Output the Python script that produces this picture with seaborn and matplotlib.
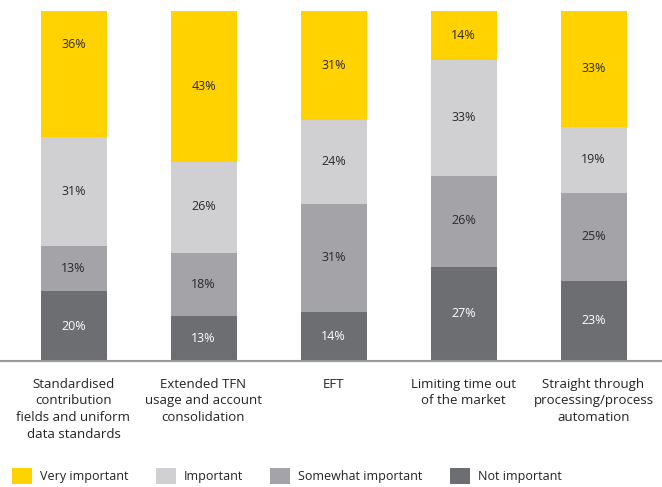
import matplotlib
matplotlib.use("Agg")
import matplotlib.pyplot as plt
import seaborn as sns
import pandas as pd
from matplotlib.patches import Patch

categories = [
    "Standardised\ncontribution\nfields and uniform\ndata standards",
    "Extended TFN\nusage and account\nconsolidation",
    "EFT",
    "Limiting time out\nof the market",
    "Straight through\nprocessing/process\nautomation",
]
series_names = ["Not important", "Somewhat important", "Important", "Very important"]
legend_order = ["Very important", "Important", "Somewhat important", "Not important"]
not_important = [20, 13, 14, 27, 23]
somewhat_important = [13, 18, 31, 26, 25]
important = [31, 26, 24, 33, 19]
very_important = [36, 43, 31, 14, 33]

colors = {
    "Very important": "#FFD200",
    "Important": "#D0D0D3",
    "Somewhat important": "#A3A3A8",
    "Not important": "#6D6E72",
}
text_colors = {
    "Very important": "#2A2A2A",
    "Important": "#2A2A2A",
    "Somewhat important": "#2A2A2A",
    "Not important": "#FFFFFF",
}
# label placement tweak (data units) for the one off-centre label in the reference
label_shift = {("Very important", 0): 8.5}

sns.set_theme(style="white")
plt.rcParams["font.family"] = ["Open Sans", "DejaVu Sans"]

values = {
    "Not important": not_important,
    "Somewhat important": somewhat_important,
    "Important": important,
    "Very important": very_important,
}

fig = plt.figure(figsize=(6.62, 4.87), dpi=100)
ax = fig.add_axes([0, (487 - 361) / 487, 1, 350 / 487])

bottoms = [0] * len(categories)
for name in series_names:
    vals = values[name]
    df = pd.DataFrame({"cat": list(range(len(categories))), "val": vals})
    sns.barplot(data=df, x="cat", y="val", bottom=bottoms, color=colors[name],
                width=66 / 130, ax=ax, native_scale=True, saturation=1,
                edgecolor="none", linewidth=0)
    for i, v in enumerate(vals):
        y = bottoms[i] + v / 2 + label_shift.get((name, i), 0)
        ax.text(i, y, f"{v}%", ha="center", va="center",
                fontsize=9, color=text_colors[name])
    bottoms = [b + v for b, v in zip(bottoms, vals)]

ax.set_xlim(-73.5 / 130, (662 - 73.5) / 130)
ax.set_ylim(0, 100)
ax.set_xlabel("")
ax.set_ylabel("")
ax.set_yticks([])
ax.set_xticks(range(len(categories)))
ax.set_xticklabels(categories, fontsize=9.5, color="#222222", linespacing=1.38)
ax.tick_params(axis="x", length=0, pad=12)
for s in ["top", "right", "left"]:
    ax.spines[s].set_visible(False)
ax.spines["bottom"].set_color("#9A9A9A")
ax.spines["bottom"].set_linewidth(1.5)

handles = [Patch(facecolor=colors[n], edgecolor="none") for n in legend_order]
fig.legend(handles, legend_order, loc="lower left",
           bbox_to_anchor=(12 / 662, 3 / 487), ncol=4,
           frameon=False, fontsize=9, handlelength=1.6, handleheight=1.6,
           columnspacing=2.2, handletextpad=0.62, borderaxespad=0, borderpad=0,
           labelcolor="#222222")

fig.savefig("out.png", dpi=100)
